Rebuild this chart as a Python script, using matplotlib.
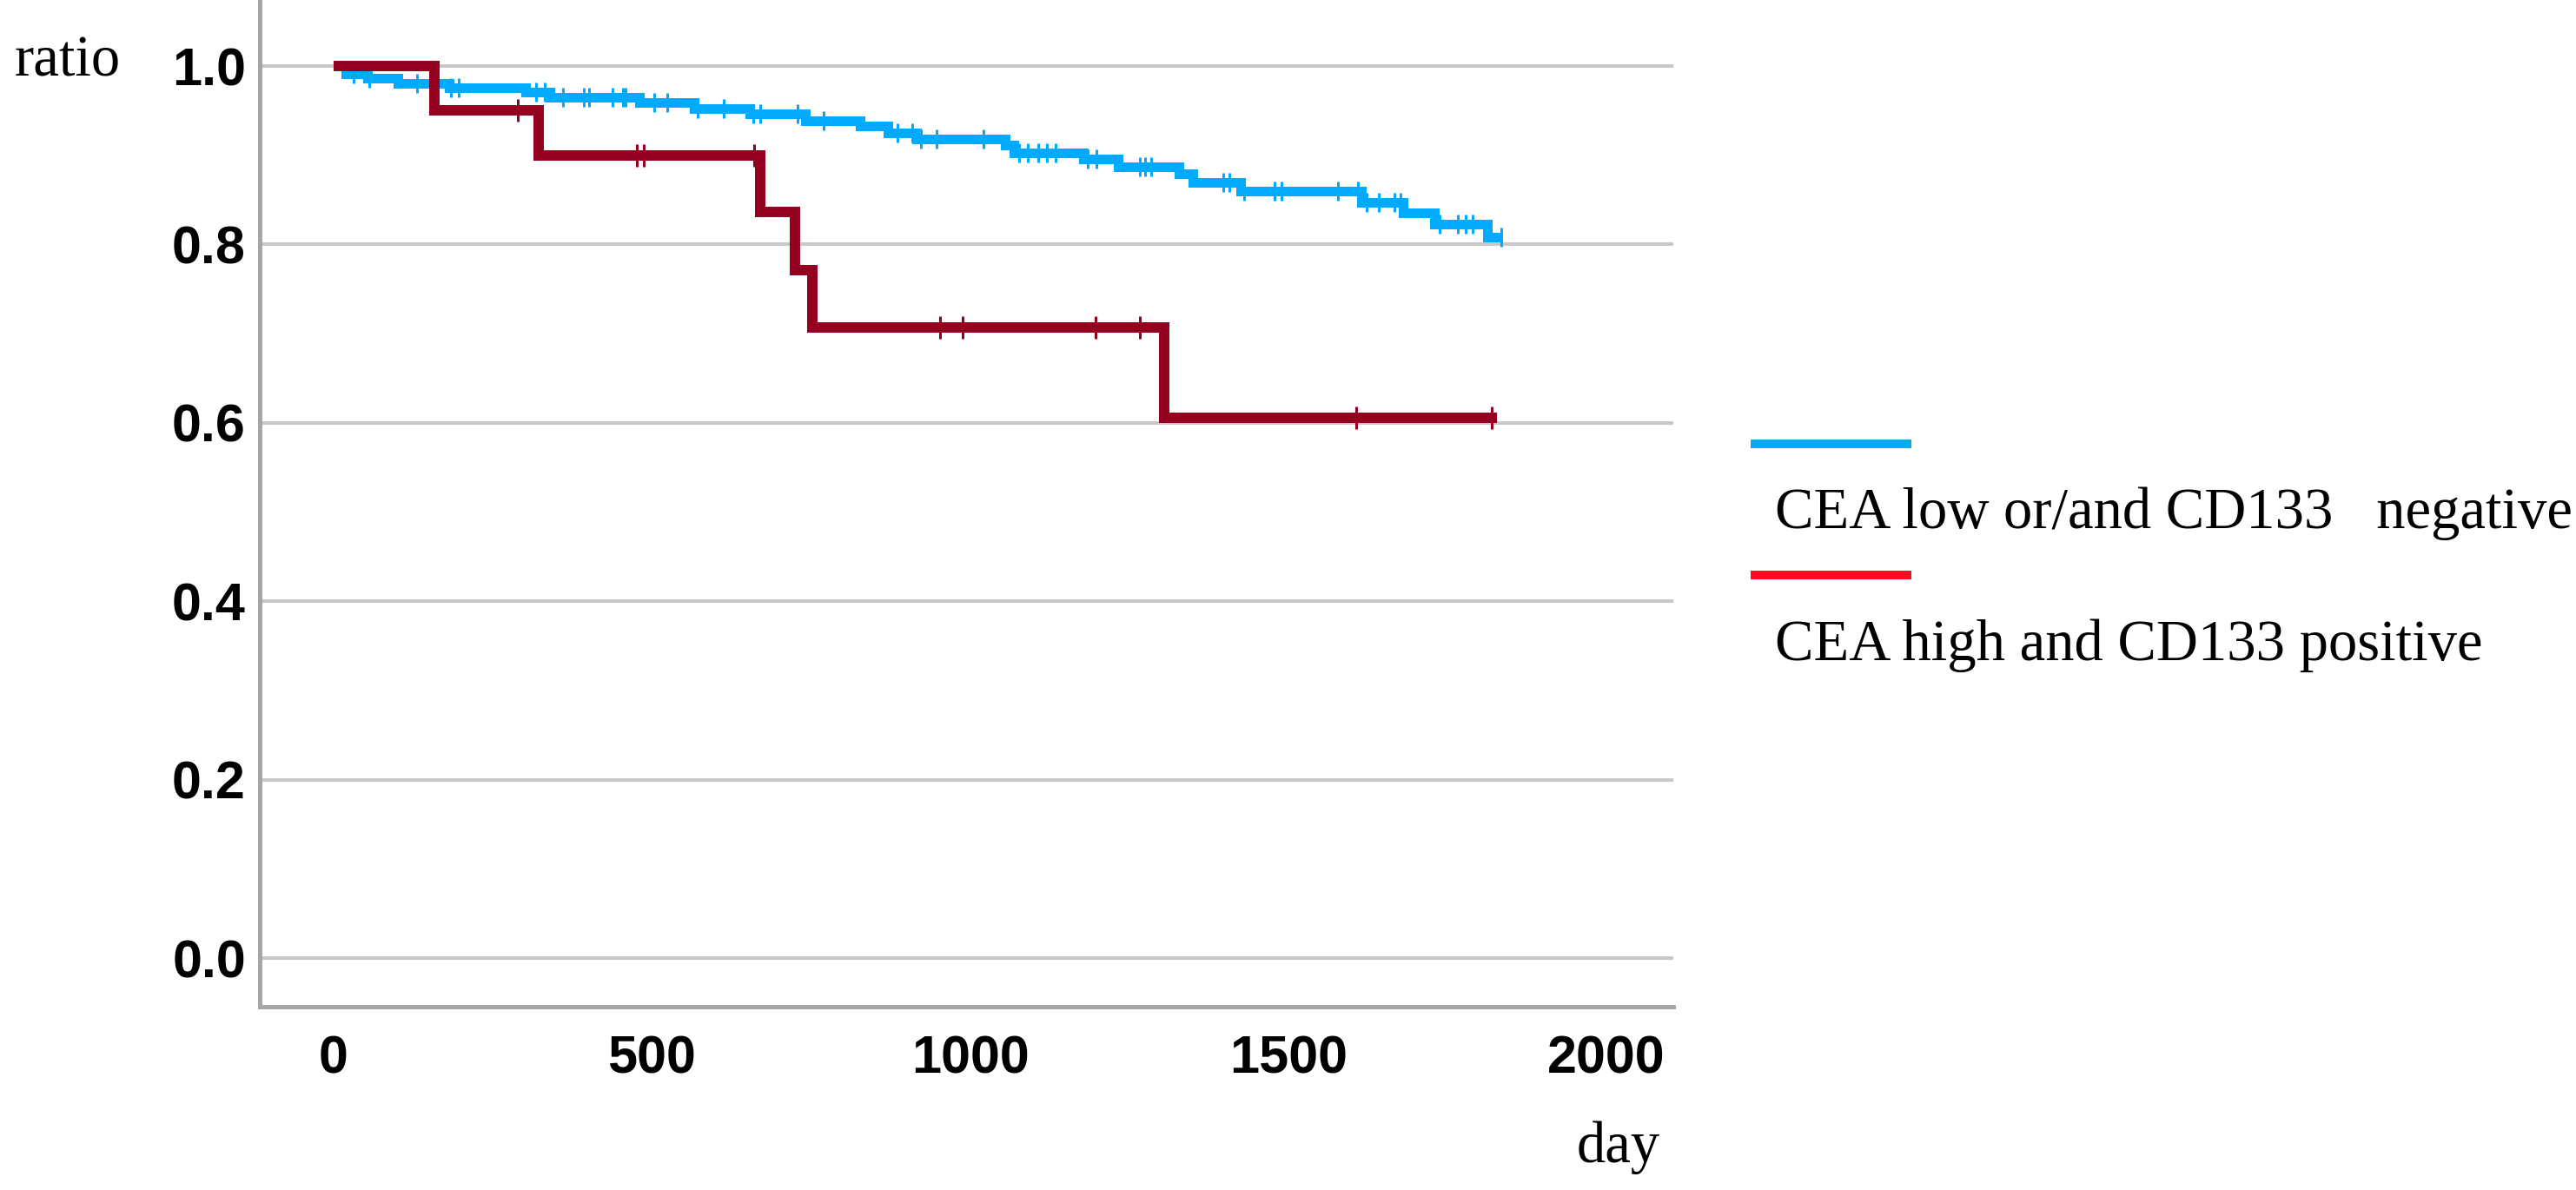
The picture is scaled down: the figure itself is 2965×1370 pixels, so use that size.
import numpy as np
import matplotlib
matplotlib.use("Agg")
import matplotlib.pyplot as plt
from matplotlib.lines import Line2D

# ---------------- data ----------------
blue_event_days = [19, 53, 101, 181, 302, 340, 481, 566, 654, 741, 827, 871, 916,
                   1055, 1069, 1178, 1233, 1328, 1350, 1425, 1615, 1680, 1730, 1813]
blue_surv = [0.991, 0.986, 0.981, 0.976, 0.971, 0.965, 0.959, 0.952, 0.946, 0.939,
             0.933, 0.925, 0.918, 0.911, 0.903, 0.896, 0.887, 0.879, 0.870, 0.860,
             0.847, 0.835, 0.823, 0.808]
blue_censor_days = [31, 56, 131, 185, 196, 318, 332, 360, 393, 401, 438, 455, 459,
                    504, 524, 572, 613, 659, 670, 729, 770, 886, 909, 923, 947, 1021,
                    1077, 1091, 1107, 1121, 1134, 1185, 1199, 1267, 1275, 1285, 1398,
                    1408, 1431, 1478, 1489, 1578, 1610, 1623, 1642, 1667, 1676, 1738,
                    1767, 1779, 1790, 1835]
blue_end_day = 1835

red_event_days = [158, 322, 670, 725, 752, 1305]
red_surv = [0.95, 0.90, 0.836, 0.771, 0.707, 0.606]
red_censor_days = [289, 477, 488, 661, 953, 988, 1197, 1267, 1607, 1820]
red_end_day = 1828

legend_labels = ["CEA low or/and CD133   negative", "CEA high and CD133 positive"]
x_ticks = [0, 500, 1000, 1500, 2000]
y_ticks = [0.0, 0.2, 0.4, 0.6, 0.8, 1.0]
x_label = "day"
y_label = "ratio"

# ---------------- style ----------------
W, H, DPI = 2965, 1370, 100
BLUE = "#00AAFF"
DARKRED = "#960020"
LEG_BLUE = "#00AEEF"
LEG_RED = "#FF0A1E"
GRID = "#C8C8C8"
SPINE = "#A6A6A6"
SERIF = ["Liberation Serif", "DejaVu Serif"]
SANS = ["Liberation Sans", "DejaVu Sans"]


def px(v):  # pixels -> points
    return v * 72.0 / DPI


def surv_at(t, days, surv):
    idx = np.searchsorted(days, t, side="right")
    return 1.0 if idx == 0 else surv[idx - 1]


fig = plt.figure(figsize=(W / DPI, H / DPI), dpi=DPI)
fig.patch.set_facecolor("white")

ax_l, ax_r, ax_t, ax_b = 299, 1926, 0, 1159
ax = fig.add_axes([ax_l / W, 1 - ax_b / H, (ax_r - ax_l) / W, (ax_b - ax_t) / H])
ax.set_xlim(-116, 2105)
ax.set_ylim(-0.0545, 1.074)

# grid
ax.set_yticks(y_ticks)
ax.set_xticks(x_ticks)
ax.yaxis.grid(True, color=GRID, linewidth=px(4), zorder=0)
ax.xaxis.grid(False)
ax.set_axisbelow(True)

for s in ["top", "right"]:
    ax.spines[s].set_visible(False)
for s in ["left", "bottom"]:
    ax.spines[s].set_color(SPINE)
    ax.spines[s].set_linewidth(px(5))

ax.tick_params(axis="both", length=0)
ax.tick_params(axis="y", pad=px(16))
ax.tick_params(axis="x", pad=px(32))
ax.set_yticklabels([f"{v:.1f}" for v in y_ticks])
ax.set_xticklabels([str(v) for v in x_ticks])
for lab in ax.get_xticklabels() + ax.get_yticklabels():
    lab.set_fontfamily(SANS)
    lab.set_fontweight("bold")
    lab.set_fontsize(44)
    lab.set_color("black")


def km(ax, days, surv, end, censors, color, lw, msize, mew, z):
    xs = [0] + list(days) + [end]
    ys = [1.0] + list(surv) + [surv[-1]]
    ax.plot(xs, ys, drawstyle="steps-post", color=color, linewidth=lw,
            solid_joinstyle="miter", solid_capstyle="butt", zorder=z)
    cy = [surv_at(t, days, surv) for t in censors]
    ax.plot(censors, cy, linestyle="none", marker="|", markersize=msize,
            markeredgewidth=mew, color=color, zorder=z)


km(ax, blue_event_days, blue_surv, blue_end_day, blue_censor_days,
   BLUE, px(11), px(22), px(3), 3)
km(ax, red_event_days, red_surv, red_end_day, red_censor_days,
   DARKRED, px(12), px(26), px(3), 4)

# axis labels
fig.text(17 / W, 1 - 88 / H, y_label, family=SERIF, fontsize=48,
         ha="left", va="baseline")
fig.text(1815 / W, 1 - 1338 / H, x_label, family=SERIF, fontsize=48,
         ha="left", va="baseline")

# legend
leg_colors = [LEG_BLUE, LEG_RED]
leg_line_y = [511, 662]
leg_text_y = [608, 760]
for lab, c, ly, ty in zip(legend_labels, leg_colors, leg_line_y, leg_text_y):
    fig.add_artist(Line2D([2015 / W, 2200 / W], [1 - ly / H, 1 - ly / H],
                          color=c, linewidth=px(10), solid_capstyle="butt"))
    fig.text(2043 / W, 1 - ty / H, lab, family=SERIF, fontsize=48,
             ha="left", va="baseline")

fig.savefig("out.png", dpi=DPI, facecolor="white")
